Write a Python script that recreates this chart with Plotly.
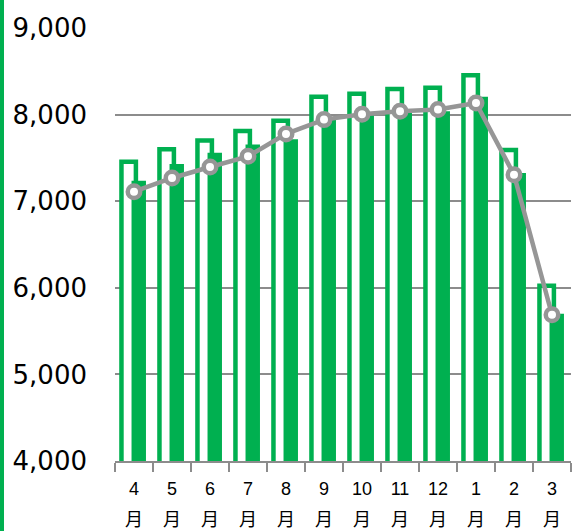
import plotly.graph_objects as go

months = ['4', '5', '6', '7', '8', '9', '10', '11', '12', '1', '2', '3']
outline_values = [7455, 7600, 7700, 7810, 7930, 8205, 8240, 8295, 8310, 8455, 7590, 6025]
filled_values = [7235, 7430, 7560, 7655, 7715, 7960, 7990, 8020, 8040, 8205, 7325, 5700]
line_values = [7110, 7268, 7395, 7518, 7777, 7942, 8005, 8038, 8058, 8135, 7306, 5688]
y_ticks = [4000, 5000, 6000, 7000, 8000, 9000]

green = '#00B050'
gray = '#969696'

x_labels = [f'<span style="font-size:18px">{m}</span><br>'
            f'<span style="font-size:18px;font-family:Noto Sans CJK JP">月</span>'
            for m in months]

fig = go.Figure()

fig.add_trace(go.Bar(
    x=months,
    y=outline_values,
    width=0.38,
    offset=-0.33,
    marker=dict(color='white', line=dict(color=green, width=4.5)),
    showlegend=False
))

fig.add_trace(go.Bar(
    x=months,
    y=filled_values,
    width=0.38,
    offset=-0.065,
    marker=dict(color=green, line=dict(width=0)),
    showlegend=False
))

fig.add_trace(go.Scatter(
    x=months,
    y=line_values,
    mode='lines+markers',
    line=dict(color=gray, width=4.5),
    marker=dict(size=12.5, color='white', line=dict(color=gray, width=4.5)),
    showlegend=False
))

# green strip on the left edge
fig.add_shape(
    type='rect', xref='paper', yref='paper',
    x0=-115 / 456, x1=-111 / 456, y0=-70 / 433, y1=1 + 28 / 433,
    fillcolor=green, line=dict(width=0), layer='above'
)

fig.update_layout(
    width=572,
    height=531,
    margin=dict(l=115, r=1, t=28, b=70),
    barmode='overlay',
    paper_bgcolor='white',
    plot_bgcolor='white',
    font=dict(family='DejaVu Sans', color='black'),
    xaxis=dict(
        type='category',
        tickmode='array',
        tickvals=months,
        ticktext=x_labels,
        tickson='boundaries',
        ticks='outside',
        ticklen=9,
        tickwidth=1.5,
        tickcolor='#8c8c8c',
        showline=True,
        linecolor='#8c8c8c',
        linewidth=1.5,
        showgrid=False,
        ticklabelstandoff=4,
        tickfont=dict(family='Liberation Sans', size=23.5, color='black'),
        range=[-0.5, 11.5],
        fixedrange=True
    ),
    yaxis=dict(
        range=[4000, 9000],
        tickvals=y_ticks,
        tickformat=',',
        showgrid=True,
        gridcolor='#8c8c8c',
        gridwidth=1.5,
        zeroline=False,
        showline=False,
        ticks='',
        ticklabelstandoff=27,
        tickfont=dict(family='DejaVu Sans', size=26, color='black'),
        fixedrange=True
    )
)

fig.write_html('out.html', config={'displayModeBar': False},
               post_script="document.body.style.margin='0';")
